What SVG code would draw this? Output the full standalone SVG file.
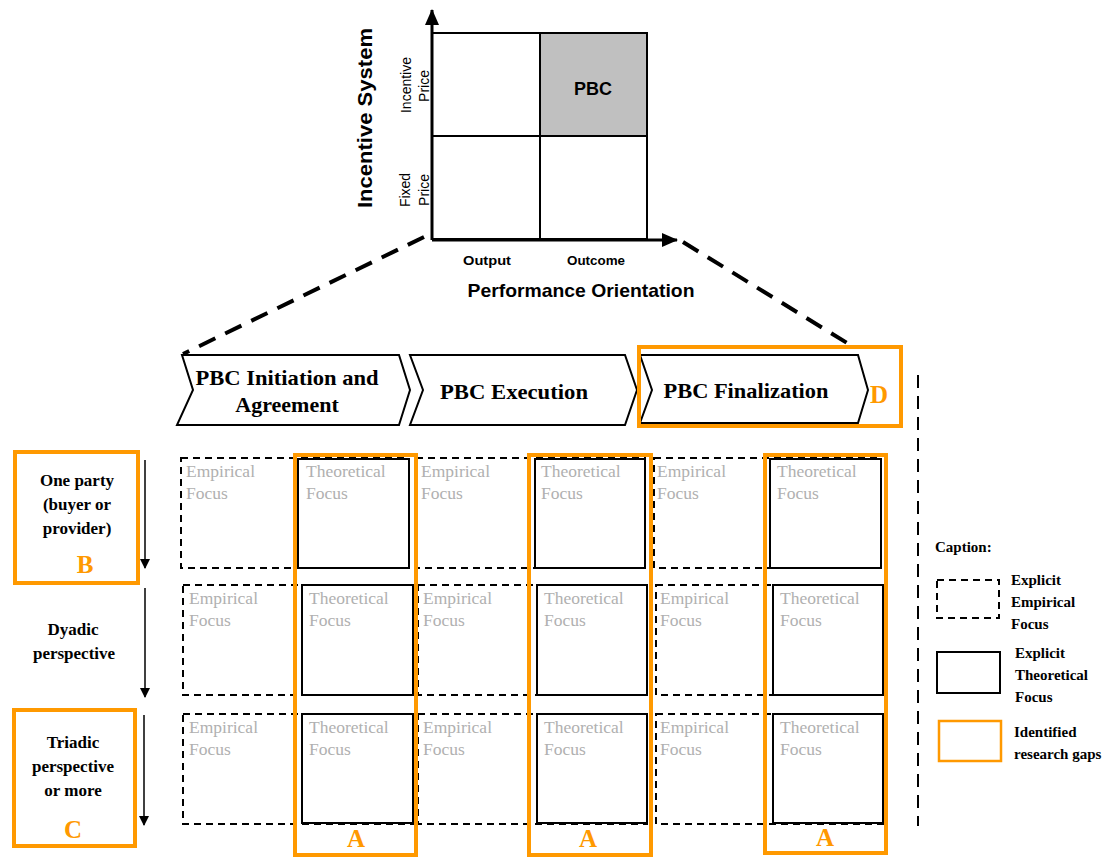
<svg xmlns="http://www.w3.org/2000/svg" width="1118" height="859" viewBox="0 0 1118 859">
<style>
.ax{font-family:"Liberation Sans",Arial,sans-serif;fill:#000}
.b{font-weight:bold}
.gt{font-family:"Liberation Serif","Times New Roman",serif;font-size:17.5px;fill:#b0b0b0}
.lab{font-family:"Liberation Serif","Times New Roman",serif;font-size:17px;font-weight:bold;fill:#000;text-anchor:middle}
.leg{font-family:"Liberation Serif","Times New Roman",serif;font-size:15px;font-weight:bold;fill:#000}
.ltr{font-family:"Liberation Serif","Times New Roman",serif;font-size:25px;font-weight:bold;fill:#ff9900;text-anchor:middle}
.ph{font-family:"Liberation Serif","Times New Roman",serif;font-size:22px;font-weight:bold;fill:#000;text-anchor:middle}
.emp{fill:none;stroke:#000;stroke-width:2;stroke-dasharray:7,5}
.theo{fill:#fff;stroke:#000;stroke-width:2}
.gap{fill:none;stroke:#ff9900;stroke-width:4}
.chev{fill:#fff;stroke:#000;stroke-width:2}
</style>
<defs>
<marker id="ah" markerWidth="10" markerHeight="10" refX="9" refY="5" orient="auto" markerUnits="userSpaceOnUse"><path d="M0,0 L10,5 L0,10 z" fill="#000"/></marker>
<marker id="axh" markerWidth="16" markerHeight="14" refX="15" refY="7" orient="auto" markerUnits="userSpaceOnUse"><path d="M0,0 L16,7 L0,14 z" fill="#000"/></marker>
</defs>

<g id="matrix">
<rect x="540" y="33" width="107" height="103" fill="#c0c0c0"/>
<rect x="432" y="33" width="215" height="206" fill="none" stroke="#000" stroke-width="2"/>
<line x1="540" y1="33" x2="540" y2="239" stroke="#000" stroke-width="2"/>
<line x1="432" y1="136" x2="647" y2="136" stroke="#000" stroke-width="2"/>
<line x1="432" y1="240" x2="432" y2="10" stroke="#000" stroke-width="3" marker-end="url(#axh)"/>
<line x1="432" y1="240" x2="677" y2="240" stroke="#000" stroke-width="3" marker-end="url(#axh)"/>
<text class="ax b" x="593" y="95" font-size="18" text-anchor="middle">PBC</text>
<text class="ax b" transform="translate(372,118) rotate(-90)" font-size="21" text-anchor="middle" textLength="180" lengthAdjust="spacingAndGlyphs">Incentive System</text>
<text class="ax" transform="translate(411,85) rotate(-90)" font-size="14" text-anchor="middle">Incentive</text>
<text class="ax" transform="translate(429,86) rotate(-90)" font-size="14" text-anchor="middle">Price</text>
<text class="ax" transform="translate(410,190) rotate(-90)" font-size="14" text-anchor="middle">Fixed</text>
<text class="ax" transform="translate(429,190) rotate(-90)" font-size="14" text-anchor="middle">Price</text>
<text class="ax b" x="487" y="265" font-size="13" text-anchor="middle" textLength="48" lengthAdjust="spacingAndGlyphs">Output</text>
<text class="ax b" x="596" y="265" font-size="13" text-anchor="middle" textLength="58" lengthAdjust="spacingAndGlyphs">Outcome</text>
<text class="ax b" x="581" y="297" font-size="19" text-anchor="middle" textLength="227" lengthAdjust="spacingAndGlyphs">Performance Orientation</text>
</g>

<g id="connectors">
<line x1="424" y1="237" x2="183" y2="354" stroke="#000" stroke-width="4" stroke-dasharray="18,11"/>
<line x1="683" y1="242" x2="852" y2="346" stroke="#000" stroke-width="4" stroke-dasharray="18,11"/>
<line x1="918" y1="375" x2="918" y2="826" stroke="#000" stroke-width="2" stroke-dasharray="13,8"/>
<line x1="145" y1="460" x2="145" y2="568" stroke="#000" stroke-width="1.5" marker-end="url(#ah)"/>
<line x1="145" y1="588" x2="145" y2="697" stroke="#000" stroke-width="1.5" marker-end="url(#ah)"/>
<line x1="144" y1="715" x2="144" y2="825" stroke="#000" stroke-width="1.5" marker-end="url(#ah)"/>
</g>

<g id="phase1">
<polygon class="chev" points="182,355 399,355 410,390 399,425 177,425 193,390"/>
<text class="ph" x="287" y="385" textLength="183" lengthAdjust="spacingAndGlyphs">PBC Initiation  and</text>
<text class="ph" x="287" y="412">Agreement</text>
</g>
<g id="phase2">
<polygon class="chev" points="410,355 625,355 637,390 625,425 410,425 423,390"/>
<text class="ph" x="514" y="399" textLength="148" lengthAdjust="spacingAndGlyphs">PBC Execution</text>
</g>
<g id="phase3">
<polygon class="chev" points="640,355 858,355 868,390 858,423 640,423 652,390"/>
<text class="ph" x="746" y="398" textLength="165" lengthAdjust="spacingAndGlyphs">PBC Finalization</text>
</g>

<g id="grid">
<rect class="emp" x="181" y="458" width="228" height="110"/>
<rect class="emp" x="416" y="458" width="229" height="110"/>
<rect class="emp" x="654" y="458" width="227" height="110"/>
<rect class="emp" x="183" y="585" width="230" height="110"/>
<rect class="emp" x="418" y="585" width="229" height="110"/>
<rect class="emp" x="656" y="585" width="227" height="110"/>
<rect class="emp" x="183" y="714" width="230" height="110"/>
<rect class="emp" x="418" y="714" width="229" height="110"/>
<rect class="emp" x="656" y="714" width="227" height="110"/>

<rect class="theo" x="298" y="459" width="111" height="109"/>
<rect class="theo" x="535" y="459" width="110" height="109"/>
<rect class="theo" x="770" y="459" width="111" height="109"/>
<rect class="theo" x="302" y="585" width="111" height="110"/>
<rect class="theo" x="537" y="585" width="110" height="110"/>
<rect class="theo" x="773" y="585" width="110" height="110"/>
<rect class="theo" x="302" y="714" width="111" height="109"/>
<rect class="theo" x="537" y="714" width="110" height="109"/>
<rect class="theo" x="773" y="714" width="110" height="109"/>

<text class="gt" x="186" y="477">Empirical</text><text class="gt" x="186" y="499">Focus</text>
<text class="gt" x="306" y="477">Theoretical</text><text class="gt" x="306" y="499">Focus</text>
<text class="gt" x="421" y="477">Empirical</text><text class="gt" x="421" y="499">Focus</text>
<text class="gt" x="541" y="477">Theoretical</text><text class="gt" x="541" y="499">Focus</text>
<text class="gt" x="657" y="477">Empirical</text><text class="gt" x="657" y="499">Focus</text>
<text class="gt" x="777" y="477">Theoretical</text><text class="gt" x="777" y="499">Focus</text>

<text class="gt" x="189" y="604">Empirical</text><text class="gt" x="189" y="626">Focus</text>
<text class="gt" x="309" y="604">Theoretical</text><text class="gt" x="309" y="626">Focus</text>
<text class="gt" x="423" y="604">Empirical</text><text class="gt" x="423" y="626">Focus</text>
<text class="gt" x="544" y="604">Theoretical</text><text class="gt" x="544" y="626">Focus</text>
<text class="gt" x="660" y="604">Empirical</text><text class="gt" x="660" y="626">Focus</text>
<text class="gt" x="780" y="604">Theoretical</text><text class="gt" x="780" y="626">Focus</text>

<text class="gt" x="189" y="733">Empirical</text><text class="gt" x="189" y="755">Focus</text>
<text class="gt" x="309" y="733">Theoretical</text><text class="gt" x="309" y="755">Focus</text>
<text class="gt" x="423" y="733">Empirical</text><text class="gt" x="423" y="755">Focus</text>
<text class="gt" x="544" y="733">Theoretical</text><text class="gt" x="544" y="755">Focus</text>
<text class="gt" x="660" y="733">Empirical</text><text class="gt" x="660" y="755">Focus</text>
<text class="gt" x="780" y="733">Theoretical</text><text class="gt" x="780" y="755">Focus</text>
</g>

<g id="rows">
<text class="lab" x="77" y="486">One party</text>
<text class="lab" x="77" y="510">(buyer or</text>
<text class="lab" x="77" y="534">provider)</text>
<text class="lab" x="73" y="635">Dyadic</text>
<text class="lab" x="74" y="659">perspective</text>
<text class="lab" x="73" y="748">Triadic</text>
<text class="lab" x="73" y="772">perspective</text>
<text class="lab" x="73" y="796">or more</text>
</g>

<g id="gaps">
<rect class="gap" x="639" y="347" width="262" height="79"/>
<text class="ltr" x="879" y="403">D</text>
<rect class="gap" x="15" y="452" width="123" height="131"/>
<text class="ltr" x="85" y="573">B</text>
<rect class="gap" x="14" y="710" width="121" height="136"/>
<text class="ltr" x="73" y="838">C</text>
<rect class="gap" x="295" y="455" width="121" height="400"/>
<text class="ltr" x="356" y="847">A</text>
<rect class="gap" x="529" y="455" width="122" height="400"/>
<text class="ltr" x="588" y="847">A</text>
<rect class="gap" x="765" y="455" width="121" height="398"/>
<text class="ltr" x="825" y="846">A</text>
</g>

<g id="legend">
<text class="leg" x="935" y="552">Caption:</text>
<rect class="emp" x="937" y="580" width="62" height="38"/>
<text class="leg" x="1011" y="585">Explicit</text>
<text class="leg" x="1011" y="607">Empirical</text>
<text class="leg" x="1011" y="629">Focus</text>
<rect class="theo" x="937" y="652" width="63" height="41"/>
<text class="leg" x="1015" y="658">Explicit</text>
<text class="leg" x="1015" y="680">Theoretical</text>
<text class="leg" x="1015" y="702">Focus</text>
<rect x="939" y="721" width="62" height="40" fill="none" stroke="#ff9900" stroke-width="2.5"/>
<text class="leg" x="1014" y="737">Identified</text>
<text class="leg" x="1014" y="759">research gaps</text>
</g>
</svg>
